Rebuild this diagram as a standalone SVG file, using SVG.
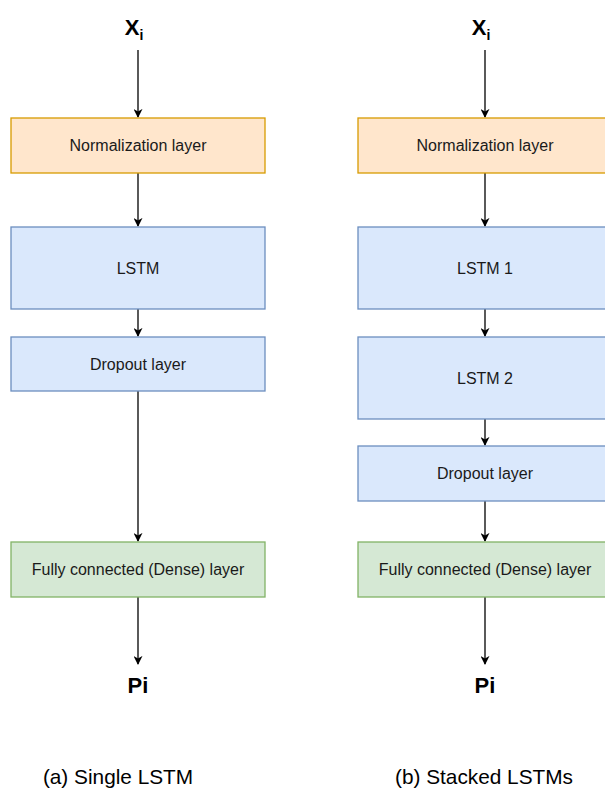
<svg xmlns="http://www.w3.org/2000/svg" width="605" height="792" viewBox="0 0 605 792">
<defs>
<style>
.t{font-family:"Liberation Sans",Arial,sans-serif;font-size:16px;fill:#1a1a1a;text-anchor:middle}
.b{font-family:"Liberation Sans",Arial,sans-serif;font-weight:bold;fill:#000;text-anchor:middle}
.c{font-family:"Liberation Sans",Arial,sans-serif;font-size:20.8px;fill:#000;text-anchor:middle}
.or{fill:#ffe6cc;stroke:#d79b00;stroke-width:1.3}
.bl{fill:#dae8fc;stroke:#6c8ebf;stroke-width:1.3}
.gr{fill:#d5e8d4;stroke:#82b366;stroke-width:1.3}
.e{stroke:#000;stroke-width:1.3;fill:none;marker-end:url(#ah)}
</style>
<marker id="ah" viewBox="0 0 10 10" refX="9" refY="5" markerWidth="9" markerHeight="9" markerUnits="userSpaceOnUse" orient="auto">
<path d="M0,0 L10,5 L0,10 L3,5 Z" fill="#000"/>
</marker>
</defs>
<rect width="605" height="792" fill="#fff"/>
<g id="connectors">
<path class="e" d="M138,50 V117"/>
<path class="e" d="M138,173 V226"/>
<path class="e" d="M138,309 V336"/>
<path class="e" d="M138,391 V541"/>
<path class="e" d="M138,597 V664"/>
<path class="e" d="M485,50 V117"/>
<path class="e" d="M485,173 V226"/>
<path class="e" d="M485,309 V336"/>
<path class="e" d="M485,419 V445"/>
<path class="e" d="M485,501 V541"/>
<path class="e" d="M485,597 V664"/>
</g>
<g id="xi-a"><text class="b" x="134" y="35" font-size="22">X<tspan font-size="14" dy="5">i</tspan></text></g>
<g id="norm-a"><rect class="or" x="11" y="118" width="254" height="55"/><text class="t" x="138" y="151">Normalization layer</text></g>
<g id="lstm-a"><rect class="bl" x="11" y="227" width="254" height="82"/><text class="t" x="138" y="274">LSTM</text></g>
<g id="drop-a"><rect class="bl" x="11" y="337" width="254" height="54"/><text class="t" x="138" y="369.5">Dropout layer</text></g>
<g id="dense-a"><rect class="gr" x="11" y="542" width="254" height="55"/><text class="t" x="138" y="575">Fully connected (Dense) layer</text></g>
<g id="pi-a"><text class="b" x="138" y="693" font-size="22">Pi</text></g>
<g id="xi-b"><text class="b" x="481" y="35" font-size="22">X<tspan font-size="14" dy="5">i</tspan></text></g>
<g id="norm-b"><rect class="or" x="358" y="118" width="254" height="55"/><text class="t" x="485" y="151">Normalization layer</text></g>
<g id="lstm1-b"><rect class="bl" x="358" y="227" width="254" height="82"/><text class="t" x="485" y="274">LSTM 1</text></g>
<g id="lstm2-b"><rect class="bl" x="358" y="337" width="254" height="82"/><text class="t" x="485" y="384">LSTM 2</text></g>
<g id="drop-b"><rect class="bl" x="358" y="446" width="254" height="55"/><text class="t" x="485" y="479">Dropout layer</text></g>
<g id="dense-b"><rect class="gr" x="358" y="542" width="254" height="55"/><text class="t" x="485" y="575">Fully connected (Dense) layer</text></g>
<g id="pi-b"><text class="b" x="485" y="693" font-size="22">Pi</text></g>
<g id="captions">
<text class="c" x="118" y="784">(a) Single LSTM</text>
<text class="c" x="484" y="784">(b) Stacked LSTMs</text>
</g>
</svg>
